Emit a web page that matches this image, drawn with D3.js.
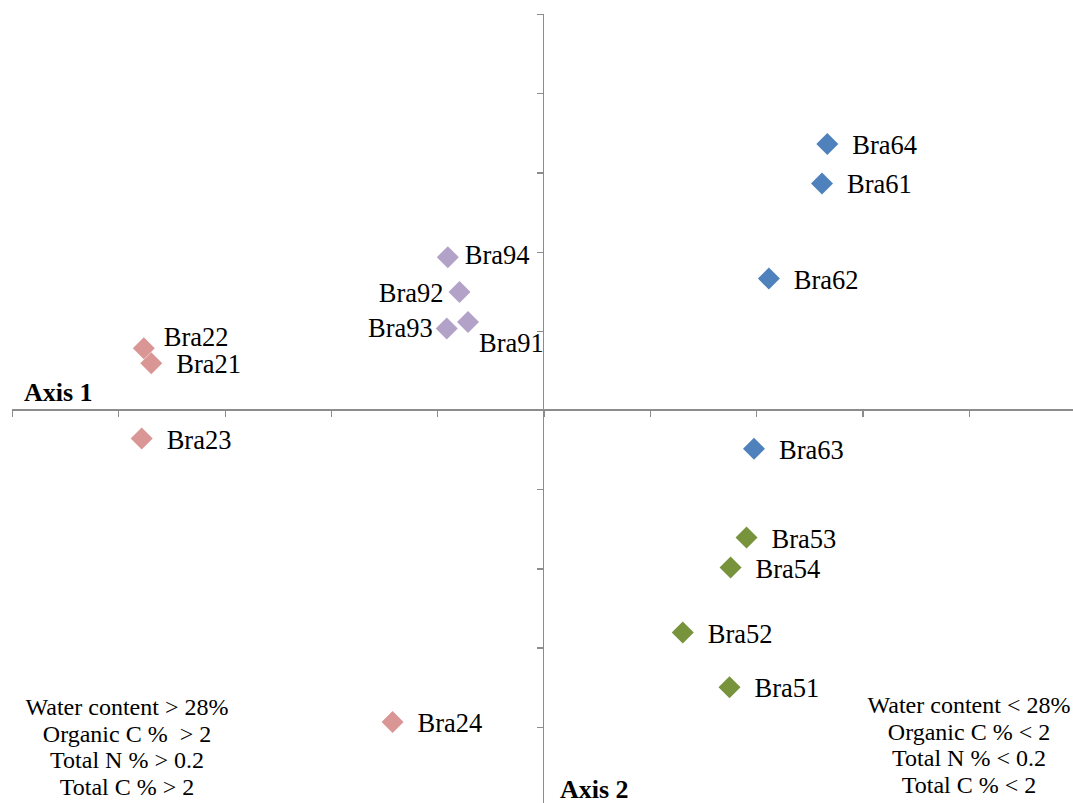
<!DOCTYPE html>
<html>
<head>
<meta charset="utf-8">
<script src="https://cdn.jsdelivr.net/npm/d3@7"></script>
<style>
  html, body { margin: 0; padding: 0; background: #fff; }
  svg { display: block; }
  text { font-family: "Liberation Serif", "Times New Roman", serif; fill: #000; }
</style>
</head>
<body>
<svg id="chart" width="1073" height="803"></svg>
<script>
// Sample scores on the two ordination axes
const sites  = ["Bra21", "Bra22", "Bra23", "Bra24",
                "Bra51", "Bra52", "Bra53", "Bra54",
                "Bra61", "Bra62", "Bra63", "Bra64",
                "Bra91", "Bra92", "Bra93", "Bra94"];
const axis1  = [-3.69, -3.76, -3.78, -1.42,
                 1.75,  1.31,  1.91,  1.76,
                 2.62,  2.12,  1.98,  2.67,
                -0.71, -0.79, -0.91, -0.90];
const axis2  = [ 0.59,  0.78, -0.36, -3.94,
                -3.50, -2.81, -1.61, -1.99,
                 2.86,  1.66, -0.49,  3.36,
                 1.11,  1.49,  1.03,  1.93];
const groups = ["Bra2", "Bra2", "Bra2", "Bra2",
                "Bra5", "Bra5", "Bra5", "Bra5",
                "Bra6", "Bra6", "Bra6", "Bra6",
                "Bra9", "Bra9", "Bra9", "Bra9"];
const groupOrder = ["Bra6", "Bra5", "Bra2", "Bra9"];
const tickValues = [-5, -4, -3, -2, -1, 0, 1, 2, 3, 4, 5];
const leftNote  = ["Water content > 28%", "Organic C %  > 2", "Total N % > 0.2", "Total C % > 2"];
const rightNote = ["Water content < 28%", "Organic C % < 2", "Total N % < 0.2", "Total C % < 2"];

const colour = d3.scaleOrdinal()
  .domain(groupOrder)
  .range(["#4F81BD", "#77933C", "#D99694", "#B3A2C7"]);

const svg = d3.select("#chart");
const x = d3.scaleLinear().domain([-5, 5]).range([12, 1075]);
const y = d3.scaleLinear().domain([-5, 5]).range([806, 14]);

const axisColour = "#8c8c8c";

// Horizontal axis through the origin, ticks hanging below
const gx = svg.append("g")
  .attr("transform", `translate(0,${y(0)})`)
  .call(d3.axisBottom(x).tickValues(tickValues).tickSize(7).tickSizeOuter(0).tickFormat(""));
gx.select(".domain").remove();
gx.append("line").attr("x1", x(-5)).attr("x2", 1073).attr("y1", 0).attr("y2", 0);

// Vertical axis through the origin, ticks to the left
const gy = svg.append("g")
  .attr("transform", `translate(${x(0)},0)`)
  .call(d3.axisLeft(y).tickValues(tickValues).tickSize(7).tickSizeOuter(0).tickFormat(""));
gy.select(".domain").remove();
gy.append("line").attr("x1", 0).attr("x2", 0).attr("y1", y(5)).attr("y2", 803);

svg.selectAll(".tick line, g > line")
  .attr("stroke", axisColour)
  .attr("stroke-width", 1.2)
  .attr("shape-rendering", "crispEdges");

// Axis titles
svg.append("text").attr("x", 24).attr("y", 401)
  .attr("font-size", 26).attr("font-weight", "bold").text("Axis 1");
svg.append("text").attr("x", 560).attr("y", 798)
  .attr("font-size", 26).attr("font-weight", "bold").text("Axis 2");

// Diamond markers
const r = 11;
const diamond = `M0,${-r}L${r},0L0,${r}L${-r},0Z`;
const pts = sites.map((s, i) => ({ name: s, a1: axis1[i], a2: axis2[i], g: groups[i] }));

svg.append("g").selectAll("path")
  .data(pts)
  .join("path")
  .attr("d", diamond)
  .attr("transform", d => `translate(${x(d.a1)},${y(d.a2)})`)
  .attr("fill", d => colour(d.g));

// Point labels; a few are shifted to stay clear of neighbours
const labelShift = {
  Bra94: { dx: 17, dy: 7 },
  Bra92: { dx: -16, dy: 10, anchor: "end" },
  Bra93: { dx: -14, dy: 9, anchor: "end" },
  Bra91: { dx: 11, dy: 30 },
  Bra22: { dx: 20, dy: -2 }
};
svg.append("g").selectAll("text")
  .data(pts)
  .join("text")
  .attr("x", d => x(d.a1) + ((labelShift[d.name] || {}).dx ?? 25))
  .attr("y", d => y(d.a2) + ((labelShift[d.name] || {}).dy ?? 10))
  .attr("text-anchor", d => (labelShift[d.name] || {}).anchor || "start")
  .attr("font-size", 26.5)
  .text(d => d.name);

// Soil property notes in the lower corners
function note(lines, cx, baseline) {
  svg.append("g").selectAll("text")
    .data(lines)
    .join("text")
    .attr("x", cx)
    .attr("y", (d, i) => baseline + i * 26.7)
    .attr("text-anchor", "middle")
    .attr("font-size", 24)
    .attr("xml:space", "preserve")
    .style("white-space", "pre")
    .text(d => d);
}
note(leftNote, 127, 715);
note(rightNote, 969, 713);
</script>
</body>
</html>
